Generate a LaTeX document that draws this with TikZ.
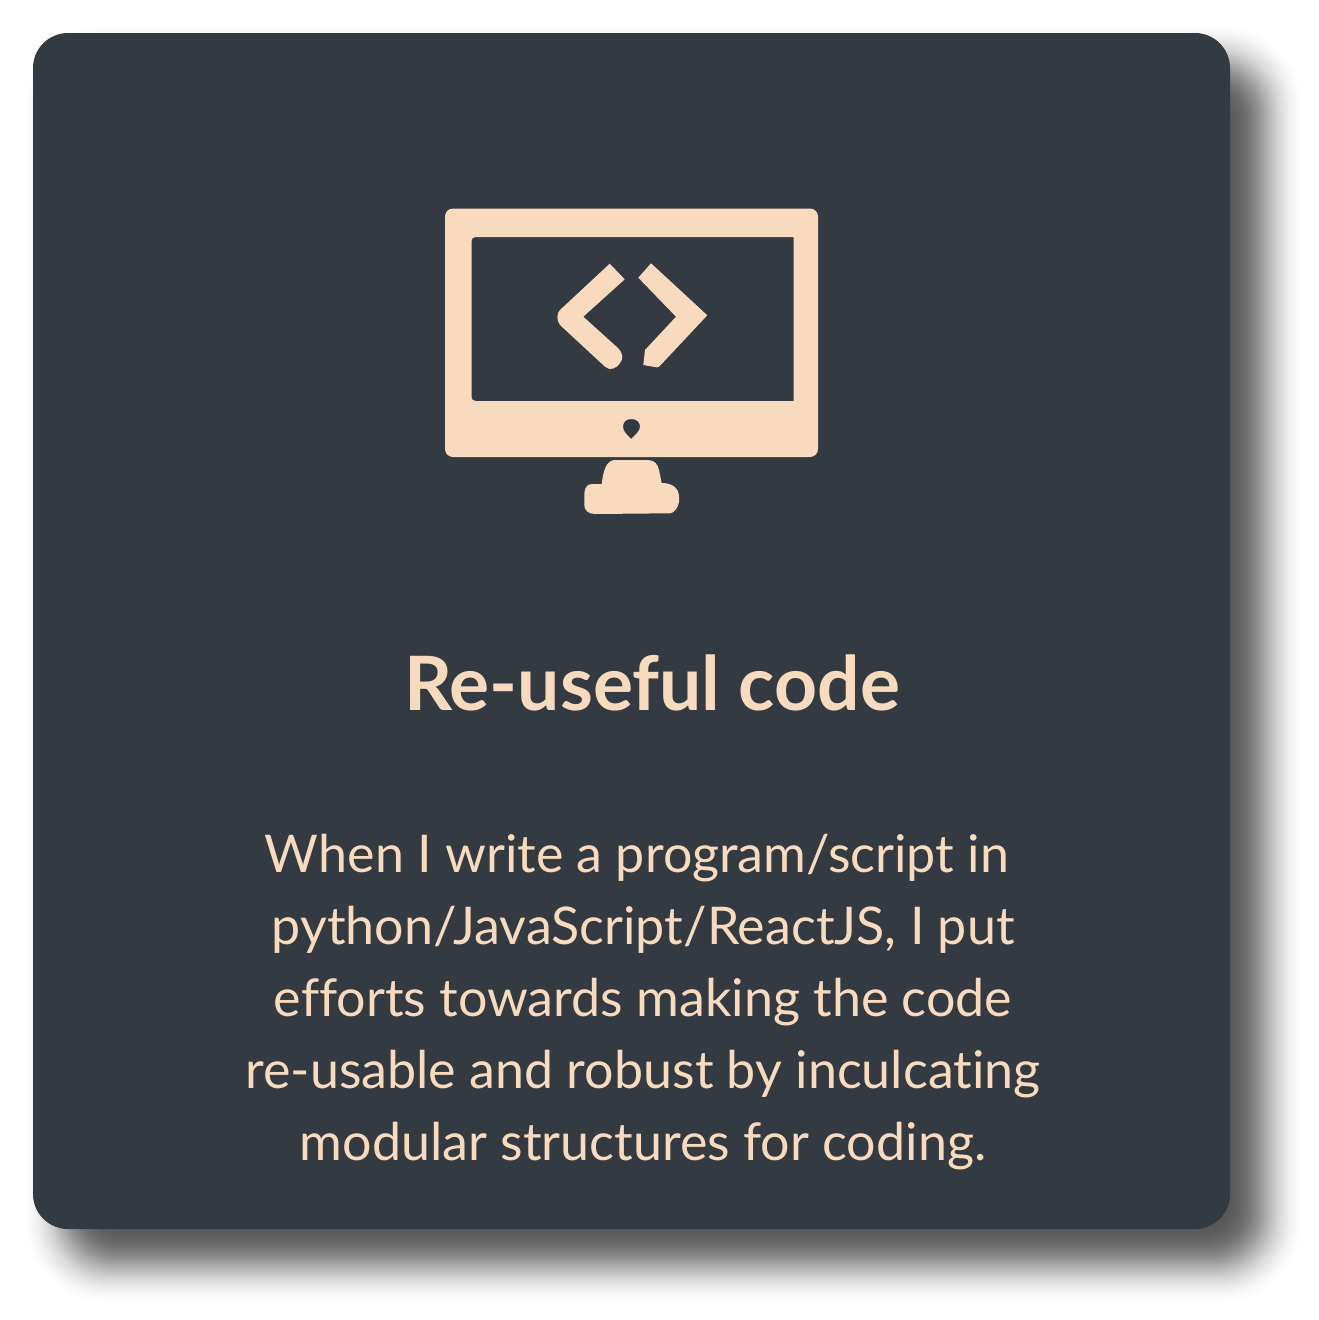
\documentclass[tikz,border=0pt]{standalone}
\usepackage{fontspec}
\setmainfont[Ligatures=NoCommon]{Lato}
\definecolor{cardgrey}{RGB}{52,58,66}
\definecolor{peach}{RGB}{248,218,190}
\usetikzlibrary{arrows.meta,positioning}

\begin{document}
\begin{tikzpicture}[
    x=1pt, y=-1pt,
    titletext/.style={text=peach, font=\fontsize{75}{80}\selectfont\bfseries, inner sep=0pt},
    bodytext/.style={text=peach, align=center, inner sep=0pt,
                     font=\fontsize{52}{72}\selectfont},
    iconpart/.style={fill=peach, even odd rule}
  ]
    \useasboundingbox (0,0) rectangle (1319,1320);

    % Blurred shadow
    \foreach \i in {0,...,44}{
      \pgfmathsetmacro{\layeralpha}{0.043*exp(-((\i-22)/15)^2)}
      \fill[black, fill opacity=\layeralpha, rounded corners=80-1.5*\i]
        (25+2*\i,25+2*\i) rectangle (1302-2*\i,1302-2*\i);
    }

    % Card
    \fill[cardgrey, rounded corners=35] (33,33) rectangle (1230,1229);

    % Monitor with screen and camera hole
    \fill[iconpart]
      [rounded corners=8] (445,208.5) rectangle (818,457)
      [rounded corners=0]
      (476,237) -- (793.5,237) -- (793.5,401) -- (476,401)
        .. controls (473,401) and (471.5,399.5) .. (471.5,397)
        -- (471.5,241) .. controls (471.5,238.5) and (473,237) .. (476,237) -- cycle
      (631,419) .. controls (637,419) and (640,422) .. (640,427)
        .. controls (640,431) and (635,435) .. (631,439)
        .. controls (627,435) and (623,431) .. (623,427)
        .. controls (623,422) and (626,419) .. (631,419) -- cycle;

    % Left bracket
    \fill[iconpart]
      (609.7,263.7) -- (624.7,279.3) -- (583.3,316.7) -- (618.3,348.3)
        .. controls (623,353) and (623.5,359) .. (620,363)
        .. controls (616,369) and (610,371) .. (605,366.7)
        -- (560,325) .. controls (556.5,321) and (556.5,313) .. (560,310) -- cycle;

    % Right bracket
    \fill[iconpart]
      (651,263.3) -- (707.3,315.3) -- (660.7,365)
        .. controls (659,367) and (658,367.5) .. (656.7,367.3)
        -- (643.3,365) -- (645,350) -- (676,316.7) -- (638.3,277.7) -- cycle;

    % Stand
    \fill[iconpart]
      (615,460) -- (648,460) .. controls (655,460) and (658,465) .. (659,470)
        -- (661.7,483) .. controls (672,483) and (679,488) .. (679,497)
        -- (679,502) .. controls (678,508) and (674,513) .. (670,513.3)
        -- (595,514) .. controls (588,514) and (584.3,510) .. (584.3,505)
        -- (584.5,492) .. controls (585,487) and (588,484) .. (592,484)
        -- (601.7,484) .. controls (603,472) and (606,460) .. (615,460) -- cycle;

    % Heading and description
    \node[titletext, anchor=base] (heading) at (652,710) {Re-useful code};
    \node[bodytext, anchor=north] (description) at (643,834)
      {When I write a program/script in\hspace*{12pt}\\
       python/JavaScript/ReactJS, I put\\
       efforts towards making the code\\
       re-usable and robust by inculcating\\
       modular structures for coding.};
\end{tikzpicture}
\end{document}
